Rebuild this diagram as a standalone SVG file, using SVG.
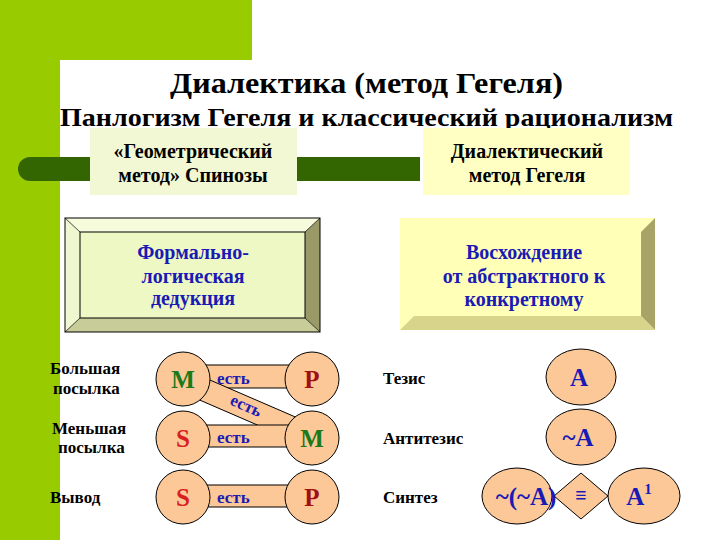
<svg xmlns="http://www.w3.org/2000/svg" width="720" height="540" viewBox="0 0 720 540">
<style>
.t{font-family:'Liberation Serif','DejaVu Serif',serif;font-weight:bold;fill:#000}
.b{font-family:'Liberation Serif','DejaVu Serif',serif;font-weight:bold;fill:#1a1ab4}
.n{fill:#fcc898;stroke:#000;stroke-width:1}
.lbl{font-family:'Liberation Serif','DejaVu Serif',serif;font-size:17px;font-weight:bold;fill:#000}
.big{font-family:'Liberation Serif','DejaVu Serif',serif;font-weight:bold;font-size:25px;text-anchor:middle}
</style>
<rect width="720" height="540" fill="#fff"/>
<g id="background">
<rect x="0" y="0" width="252" height="60" fill="#99cc00"/>
<rect x="0" y="0" width="60" height="540" fill="#99cc00"/>
<path d="M60,540 V78 Q60,60 78,60 H252 V540 Z" fill="#fff"/>
<path d="M30,157 H420 V181 H30 A12,12 0 0 1 30,157 Z" fill="#336600"/>
</g>
<g id="title">
<text class="t" x="170" y="93" font-size="29" textLength="393" lengthAdjust="spacingAndGlyphs">Диалектика (метод Гегеля)</text>
<text class="t" x="60" y="126" font-size="26" textLength="613" lengthAdjust="spacingAndGlyphs">Панлогизм Гегеля и классический рационализм</text>
</g>
<g id="spinoza">
<rect x="90" y="128" width="207" height="67" fill="#f2f8d4"/>
<text class="t" font-size="20" text-anchor="middle"><tspan x="193" y="158">«Геометрический</tspan><tspan x="193" y="182">метод» Спинозы</tspan></text>
</g>
<g id="hegel">
<rect x="423" y="128" width="207" height="67" fill="#ffffc4"/>
<text class="t" font-size="20" text-anchor="middle"><tspan x="527" y="158">Диалектический</tspan><tspan x="527" y="182">метод Гегеля</tspan></text>
</g>
<g id="formal">
<polygon points="65,218 320,218 305,232 80,232" fill="#f6fbdc"/>
<polygon points="65,218 80,232 80,318 65,332" fill="#eef7d0"/>
<polygon points="320,218 320,332 305,318 305,232" fill="#9a9a68"/>
<polygon points="65,332 80,318 305,318 320,332" fill="#c8cc98"/>
<rect x="80" y="232" width="225" height="86" fill="#eef8c4" stroke="#000" stroke-width="1"/>
<rect x="65" y="218" width="255" height="114" fill="none" stroke="#000" stroke-width="1"/>
<line x1="65" y1="218" x2="80" y2="232" stroke="#000" stroke-width="0.7"/>
<line x1="320" y1="218" x2="305" y2="232" stroke="#000" stroke-width="0.7"/>
<line x1="65" y1="332" x2="80" y2="318" stroke="#000" stroke-width="0.7"/>
<line x1="320" y1="332" x2="305" y2="318" stroke="#000" stroke-width="0.7"/>
<text class="b" font-size="20" text-anchor="middle"><tspan x="193" y="259">Формально-</tspan><tspan x="193" y="283">логическая</tspan><tspan x="193" y="305">дедукция</tspan></text>
</g>
<g id="ascent">
<rect x="400" y="218" width="255" height="112" fill="#ffffb8"/>
<polygon points="655,218 655,330 641,316 641,232" fill="#a8a468"/>
<polygon points="400,330 414,316 641,316 655,330" fill="#d8d48c"/>
<text class="b" font-size="20" text-anchor="middle"><tspan x="524" y="259">Восхождение</tspan><tspan x="524" y="283">от абстрактного к</tspan><tspan x="524" y="306">конкретному</tspan></text>
</g>
<g id="labels">
<text class="lbl" x="50" y="374">Большая</text>
<text class="lbl" x="53" y="394">посылка</text>
<text class="lbl" x="52" y="434">Меньшая</text>
<text class="lbl" x="58" y="453">посылка</text>
<text class="lbl" x="50" y="503">Вывод</text>
<text class="lbl" x="383" y="384">Тезис</text>
<text class="lbl" x="383" y="444">Антитезис</text>
<text class="lbl" x="383" y="503">Синтез</text>
</g>
<g id="connectors">
<rect class="n" x="190" y="365" width="110" height="23"/>
<polygon class="n" points="196,374 300,419 292,440 188,395"/>
<rect class="n" x="190" y="425" width="110" height="22"/>
<rect class="n" x="190" y="485" width="110" height="22"/>
</g>
<g id="node-M1"><circle class="n" cx="183" cy="379" r="27"/><text class="big" x="183" y="388" fill="#1a7a1a">M</text></g>
<g id="node-P1"><circle class="n" cx="312" cy="379" r="27"/><text class="big" x="312" y="388" fill="#a01010">P</text></g>
<g id="node-S1"><circle class="n" cx="183" cy="438" r="27"/><text class="big" x="183" y="447" fill="#d82020">S</text></g>
<g id="node-M2"><circle class="n" cx="312" cy="438" r="27"/><text class="big" x="312" y="447" fill="#1a7a1a">M</text></g>
<g id="node-S2"><circle class="n" cx="183" cy="497" r="27"/><text class="big" x="183" y="506" fill="#d82020">S</text></g>
<g id="node-P2"><circle class="n" cx="312" cy="497" r="27"/><text class="big" x="312" y="506" fill="#a01010">P</text></g>
<g id="is-labels">
<text class="b" font-size="17" x="217" y="384">есть</text>
<text class="b" font-size="17" x="217" y="443">есть</text>
<text class="b" font-size="17" x="217" y="503">есть</text>
<text class="b" font-size="17" transform="translate(229,404) rotate(24)">есть</text>
</g>
<g id="node-A"><ellipse class="n" cx="581" cy="377" rx="35" ry="28"/><text class="big" x="579" y="386" fill="#1a1ab4">A</text></g>
<g id="node-notA"><ellipse class="n" cx="581" cy="437" rx="35" ry="28"/><text class="big" x="578" y="446" fill="#1a1ab4">~A</text></g>
<g id="node-notnotA"><ellipse class="n" cx="517" cy="496" rx="35" ry="28"/></g>
<g id="node-eq"><polygon class="n" points="581,473 608,496 581,519 554,496"/><text class="b" font-size="20" x="581" y="502" text-anchor="middle">≡</text></g>
<g id="node-A1"><ellipse class="n" cx="644" cy="496" rx="36" ry="28"/><text class="big" x="639" y="505" fill="#1a1ab4">A<tspan font-size="15" dy="-11">1</tspan></text></g>
<text class="big" x="526" y="505" fill="#1a1ab4">~(~A)</text>
</svg>
